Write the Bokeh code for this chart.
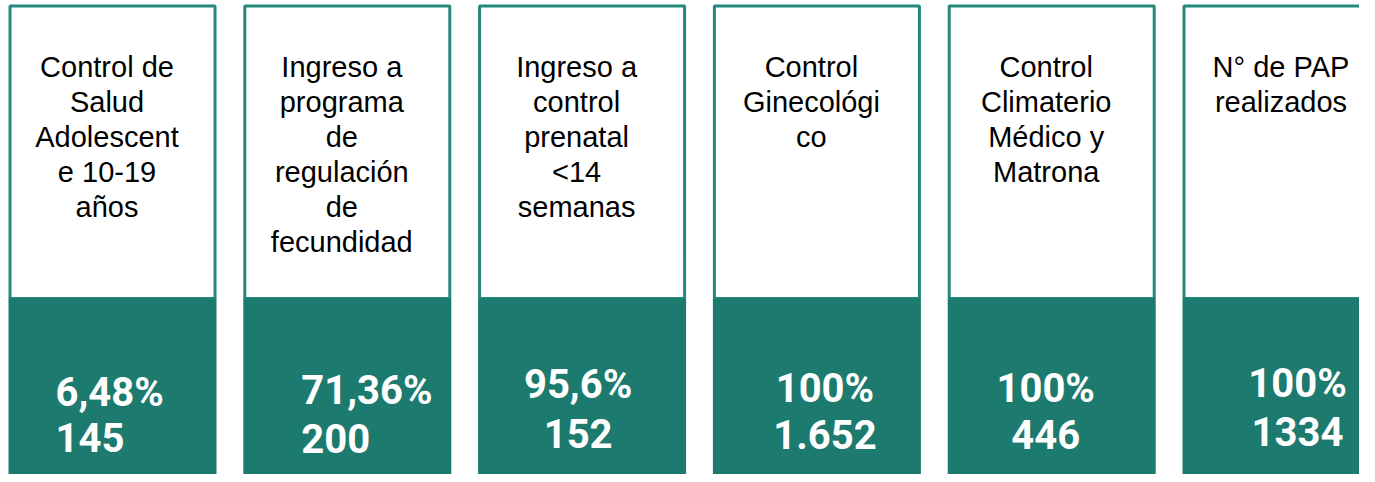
from bokeh.plotting import figure
from bokeh.models import ColumnDataSource, Range1d
from bokeh.core.properties import value
from bokeh.embed import file_html
from bokeh.resources import INLINE

# ---- data ----
titles = [
    "Control de\nSalud\nAdolescent\ne 10-19\naños",
    "Ingreso a\nprograma\nde\nregulación\nde\nfecundidad",
    "Ingreso a\ncontrol\nprenatal\n<14\nsemanas",
    "Control\nGinecológi\nco",
    "Control\nClimaterio\nMédico y\nMatrona",
    "N° de PAP\nrealizados",
]
percentages = ["6,48%", "71,36%", "95,6%", "100%", "100%", "100%"]
counts = ["145", "200", "152", "1.652", "446", "1334"]

# ---- layout / style ----
TEAL = "#1d7a6e"
BORDER = "#23887a"
W, H = 1359, 474
card_x0 = 8
card_step = 234.8
card_w = 208
card_top = 4
split_y = 298
card_bottom = 482
title_dx = 98.5
title_base = 66
title_step = 35
val_align = ["left", "left", "center", "center", "center", "center"]
val_dx = [47, 58, 100, 112, 98, 115]
val_base1 = [392, 390, 384, 388, 388, 383]
val_base2 = [437, 438, 433, 434, 434, 431]

n = len(titles)
lefts = [card_x0 + i * card_step for i in range(n)]

p = figure(width=W, height=H, output_backend="svg", toolbar_location=None,
           x_range=Range1d(0, W), y_range=Range1d(H, 0),
           x_axis_location=None, y_axis_location=None, min_border=0,
           outline_line_color=None, background_fill_color="white",
           border_fill_color="white")
p.xgrid.visible = False
p.ygrid.visible = False

# white top boxes with teal border
box = ColumnDataSource(dict(
    left=[l + 1.5 for l in lefts], right=[l + card_w - 1.5 for l in lefts],
    top=[card_top + 1.5] * n, bottom=[split_y] * n))
p.quad(left="left", right="right", top="top", bottom="bottom", source=box,
       fill_color="white", line_color=BORDER, line_width=3)

# teal bottom blocks
blk = ColumnDataSource(dict(
    left=lefts, right=[l + card_w for l in lefts],
    top=[split_y] * n, bottom=[card_bottom] * n))
p.quad(left="left", right="right", top="top", bottom="bottom", source=blk,
       fill_color=TEAL, line_color=None)

# titles
tx, ty, tt = [], [], []
for i, t in enumerate(titles):
    for j, line in enumerate(t.split("\n")):
        tx.append(lefts[i] + title_dx)
        ty.append(title_base + j * title_step)
        tt.append(line)
p.text(x="x", y="y", text="t", source=ColumnDataSource(dict(x=tx, y=ty, t=tt)),
       text_font=value("Liberation Sans"), text_font_size="29px",
       text_color="black", text_align="center", text_baseline="alphabetic")

# values
vx, vy, vt, va = [], [], [], []
for i in range(n):
    for txt, yb in ((percentages[i], val_base1[i]), (counts[i], val_base2[i])):
        vx.append(lefts[i] + val_dx[i])
        vy.append(yb)
        vt.append(txt)
        va.append(val_align[i])
p.text(x="x", y="y", text="t", text_align="a",
       source=ColumnDataSource(dict(x=vx, y=vy, t=vt, a=va)),
       text_font=value("Roboto"), text_font_style="bold", text_font_size="40px",
       text_color="white", text_baseline="alphabetic")

open("out.html", "w").write(file_html(p, INLINE))
